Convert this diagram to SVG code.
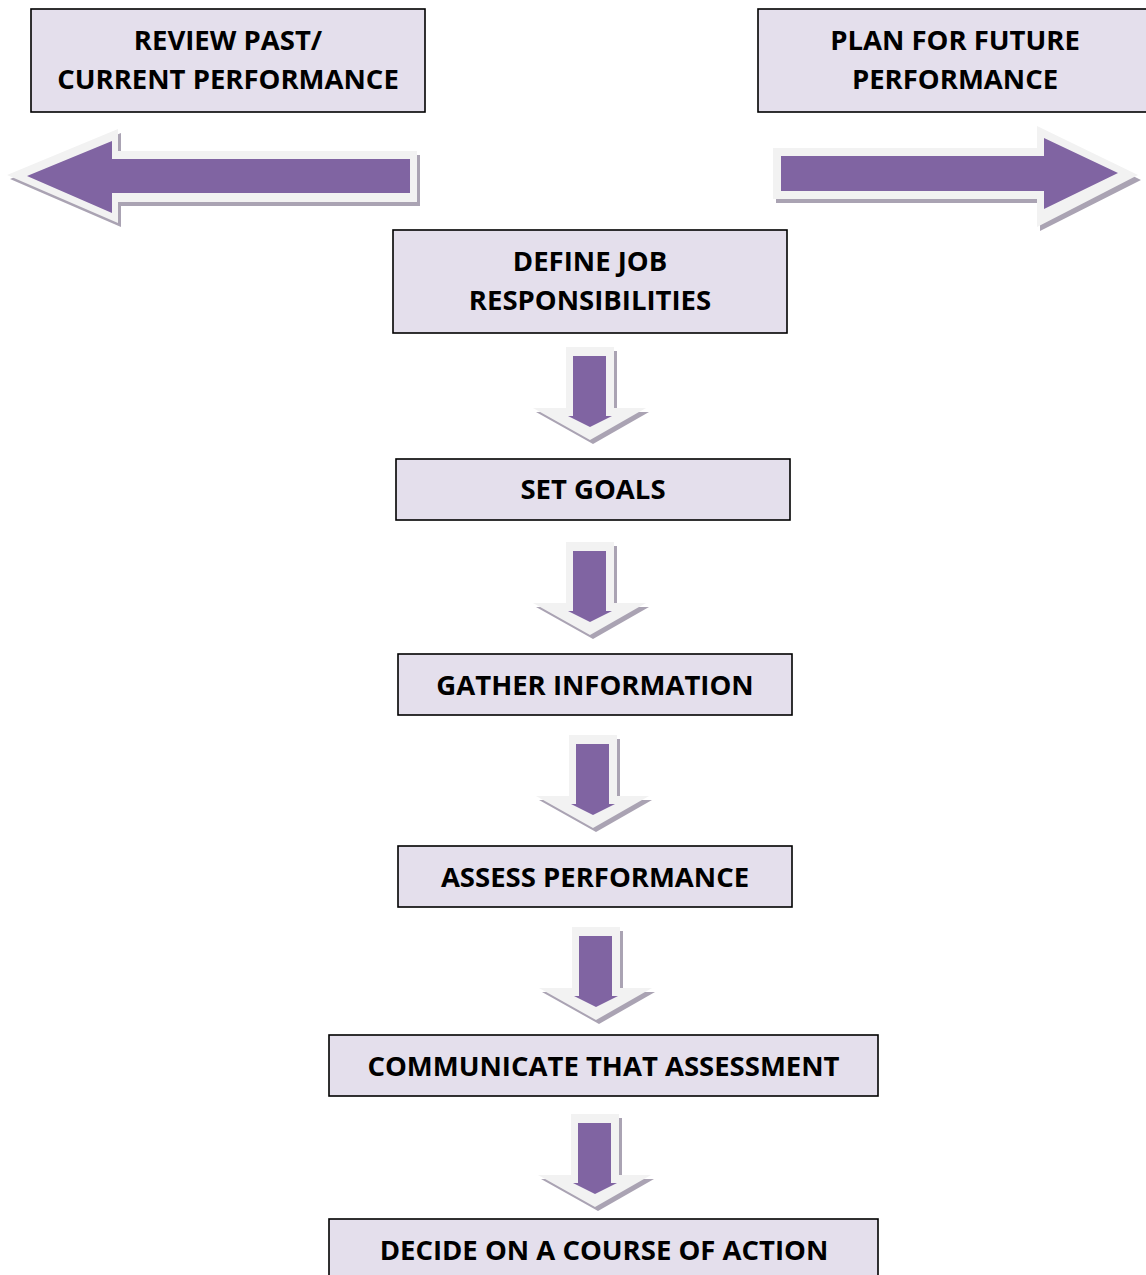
<svg xmlns="http://www.w3.org/2000/svg" width="1146" height="1275" viewBox="0 0 1146 1275">
<style>
.box{fill:#e4dfec;stroke:#000;stroke-width:1.6}
.t{font-family:"Open Sans","Liberation Sans",sans-serif;font-weight:bold;font-size:27.5px;fill:#000;text-anchor:middle}
.sh{fill:#aaa3b3}
.rim{fill:#f2f2f2}
.pu{fill:#8064a2}
</style>
<defs>
<g id="down">
<polygon class="sh" points="-21,4 27,4 27,65 59,65 3,97 -54,65 -21,65"/>
<polygon class="rim" points="-24,0 24,0 24,61 56,61 0,93 -57,61 -24,61"/>
<polygon class="pu" points="-17,9 16,9 16,69 22,69 0,80 -22,69 -17,69"/>
</g>
</defs>
<g id="connectors">
<g id="arrow-left">
<polygon class="sh" points="10,179 121,133 121,155 420,155 420,206 121,206 121,227"/>
<polygon class="rim" points="7,175 118,129 118,151 417,151 417,202 118,202 118,223"/>
<polygon class="pu" points="27,176 112,141 112,159 410,159 410,193 112,193 112,213"/>
</g>
<g id="arrow-right">
<polygon class="sh" points="776,152 1040,152 1040,130 1141,180 1040,231 1040,203 776,203"/>
<polygon class="rim" points="773,148 1037,148 1037,126 1138,175 1037,227 1037,199 773,199"/>
<polygon class="pu" points="781,156 1044,156 1044,138 1118,173 1044,209 1044,191 781,191"/>
</g>
<use href="#down" x="590" y="347"/>
<use href="#down" x="590" y="542"/>
<use href="#down" x="593" y="735"/>
<use href="#down" x="596" y="927"/>
<use href="#down" x="595" y="1114"/>
</g>
<g id="node-review">
<rect class="box" x="31" y="9" width="394" height="103"/>
<text class="t" x="228" y="50">REVIEW PAST/</text>
<text class="t" x="228" y="89">CURRENT PERFORMANCE</text>
</g>
<g id="node-plan">
<rect class="box" x="758" y="9" width="392" height="103"/>
<text class="t" x="955" y="50">PLAN FOR FUTURE</text>
<text class="t" x="955" y="89">PERFORMANCE</text>
</g>
<g id="node-define">
<rect class="box" x="393" y="230" width="394" height="103"/>
<text class="t" x="590" y="271">DEFINE JOB</text>
<text class="t" x="590" y="310">RESPONSIBILITIES</text>
</g>
<g id="node-goals">
<rect class="box" x="396" y="459" width="394" height="61"/>
<text class="t" x="593" y="499">SET GOALS</text>
</g>
<g id="node-gather">
<rect class="box" x="398" y="654" width="394" height="61"/>
<text class="t" x="595" y="695">GATHER INFORMATION</text>
</g>
<g id="node-assess">
<rect class="box" x="398" y="846" width="394" height="61"/>
<text class="t" x="595" y="887">ASSESS PERFORMANCE</text>
</g>
<g id="node-communicate">
<rect class="box" x="329" y="1035" width="549" height="61"/>
<text class="t" x="603.5" y="1076">COMMUNICATE THAT ASSESSMENT</text>
</g>
<g id="node-decide">
<rect class="box" x="329" y="1219" width="549" height="70"/>
<text class="t" x="604" y="1260">DECIDE ON A COURSE OF ACTION</text>
</g>
</svg>
